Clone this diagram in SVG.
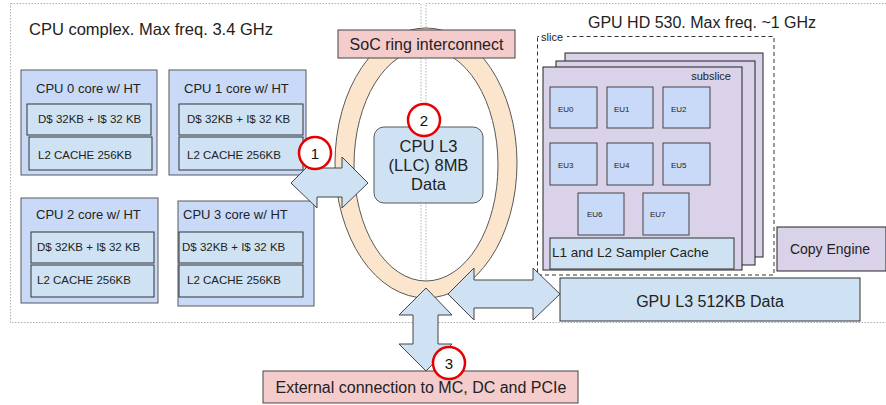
<svg xmlns="http://www.w3.org/2000/svg" width="886" height="405" viewBox="0 0 886 405">
<style>
text{font-family:"Liberation Sans",Arial,sans-serif;fill:#222;}
.reg{fill:none;stroke:#b0b0b0;stroke-width:1;stroke-dasharray:1.5 1.5;}
.cpu{fill:#c9daf8;stroke:#595959;stroke-width:1;}
.sub{fill:#cfe2f3;stroke:#333;stroke-width:1;}
.arrow{fill:#cfe2f3;stroke:#444;stroke-width:1;}
.num{fill:#fff;stroke:#e60000;stroke-width:2.5;}
.numt{font-size:15px;text-anchor:middle;fill:#111;}
.gpu{fill:#d9d2e9;stroke:#222;stroke-width:1;}
.eu{fill:#c9daf8;stroke:#444;stroke-width:1;}
.eut{font-size:8px;}
.pink{fill:#f4cccc;stroke:#444;stroke-width:1;}
.t13{font-size:13px;}
.t11{font-size:11.5px;}
</style>

<g id="regions">
  <rect class="reg" x="10.5" y="3.5" width="410.5" height="319"/>
  <rect class="reg" x="426" y="3.5" width="470" height="319"/>
</g>

<g id="ring">
  <path d="M335,163 a91,135 0 1,0 182,0 a91,135 0 1,0 -182,0 Z M354,165 a72,116 0 1,0 144,0 a72,116 0 1,0 -144,0 Z" fill="#fce5cd" fill-rule="evenodd" stroke="#595959" stroke-width="1"/>
</g>

<g id="soc">
  <rect class="pink" x="338" y="30" width="177" height="28"/>
  <text x="426.5" y="49.5" font-size="16" text-anchor="middle">SoC ring interconnect</text>
</g>

<g id="title-cpu"><text x="29" y="35" font-size="16.5">CPU complex. Max freq. 3.4 GHz</text></g>
<g id="title-gpu"><text x="588" y="28" font-size="16">GPU HD 530. Max freq. ~1 GHz</text></g>

<g id="llc">
  <rect x="374" y="127" width="109" height="76" rx="10" fill="#cfe2f3" stroke="#595959"/>
  <text x="428.5" y="152" font-size="16.5" text-anchor="middle">CPU L3</text>
  <text x="428.5" y="171" font-size="16.5" text-anchor="middle">(LLC) 8MB</text>
  <text x="428.5" y="190" font-size="16.5" text-anchor="middle">Data</text>
</g>

<g id="cpu0">
  <rect class="cpu" x="21" y="70" width="136" height="105"/>
  <text class="t13" x="36" y="93">CPU 0 core w/ HT</text>
  <rect class="sub" x="27" y="104" width="124" height="31"/>
  <text class="t11" x="38" y="123">D$ 32KB + I$ 32 KB</text>
  <rect class="sub" x="29" y="137" width="123" height="33"/>
  <text class="t11" x="38" y="159">L2 CACHE 256KB</text>
</g>
<g id="cpu1">
  <rect class="cpu" x="169" y="70" width="137" height="105"/>
  <text class="t13" x="184" y="93">CPU 1 core w/ HT</text>
  <rect class="sub" x="179" y="104" width="124" height="31"/>
  <text class="t11" x="187" y="123">D$ 32KB + I$ 32 KB</text>
  <rect class="sub" x="179" y="137" width="124" height="33"/>
  <text class="t11" x="187" y="159">L2 CACHE 256KB</text>
</g>
<g id="cpu2">
  <rect class="cpu" x="21" y="198" width="137" height="105"/>
  <text class="t13" x="36" y="219">CPU 2 core w/ HT</text>
  <rect class="sub" x="31" y="232" width="123" height="31"/>
  <text class="t11" x="37" y="251">D$ 32KB + I$ 32 KB</text>
  <rect class="sub" x="31" y="265" width="123" height="32"/>
  <text class="t11" x="37" y="284">L2 CACHE 256KB</text>
</g>
<g id="cpu3">
  <rect class="cpu" x="178" y="201" width="136" height="105"/>
  <text class="t13" x="183" y="219">CPU 3 core w/ HT</text>
  <rect class="sub" x="179" y="232" width="124" height="31"/>
  <text class="t11" x="182" y="251">D$ 32KB + I$ 32 KB</text>
  <rect class="sub" x="179" y="265" width="124" height="32"/>
  <text class="t11" x="187" y="284">L2 CACHE 256KB</text>
</g>

<g id="gpu">
  <rect x="537.5" y="36.5" width="236.5" height="238.5" fill="none" stroke="#333" stroke-dasharray="4 3"/>
  <rect x="539" y="32" width="28" height="9" fill="#fff"/>
  <text x="541" y="40.5" font-size="11">slice</text>
  <rect class="gpu" x="565" y="53" width="198" height="204"/>
  <rect class="gpu" x="556" y="61" width="199" height="204"/>
  <rect class="gpu" x="543" y="67" width="199" height="203"/>
  <text x="731" y="80" font-size="11" text-anchor="end">subslice</text>
  <rect class="eu" x="550" y="87" width="47" height="41"/><text class="eut" x="558" y="112">EU0</text>
  <rect class="eu" x="607" y="87" width="46" height="41"/><text class="eut" x="614" y="112">EU1</text>
  <rect class="eu" x="663" y="87" width="47" height="41"/><text class="eut" x="671" y="112">EU2</text>
  <rect class="eu" x="550" y="143" width="47" height="42"/><text class="eut" x="558" y="168">EU3</text>
  <rect class="eu" x="607" y="143" width="46" height="42"/><text class="eut" x="614" y="168">EU4</text>
  <rect class="eu" x="663" y="143" width="47" height="42"/><text class="eut" x="671" y="168">EU5</text>
  <rect class="eu" x="578" y="193" width="46" height="42"/><text class="eut" x="587" y="217">EU6</text>
  <rect class="eu" x="643" y="193" width="46" height="42"/><text class="eut" x="650" y="217">EU7</text>
  <rect class="sub" x="550" y="238" width="184" height="31"/>
  <text x="552" y="257" font-size="13.5">L1 and L2 Sampler Cache</text>
</g>

<g id="copy-engine">
  <rect class="gpu" x="777" y="227" width="109" height="44" stroke="#333"/>
  <text x="830" y="254" font-size="14" text-anchor="middle">Copy Engine</text>
</g>

<g id="gpu-l3">
  <rect class="sub" x="560" y="278" width="300" height="43" stroke="#595959"/>
  <text x="710" y="307" font-size="16" text-anchor="middle">GPU L3 512KB Data</text>
</g>

<g id="external">
  <rect class="pink" x="263" y="371" width="315" height="32"/>
  <text x="421" y="393" font-size="16" text-anchor="middle">External connection to MC, DC and PCIe</text>
</g>

<g id="connectors">
  <polygon class="arrow" points="291,183 317,157 317,168 342,168 342,157 368,183 342,208 342,197 317,197 317,208"/>
  <polygon class="arrow" points="448,294 474,268 474,280 533,280 533,268 560,294 533,320 533,308 474,308 474,320"/>
  <polygon class="arrow" points="426,288 452,315 438,315 438,344 452,344 426,371 399,344 413,344 413,315 399,315"/>
</g>

<g id="num1"><circle class="num" cx="315" cy="153" r="16"/><text class="numt" x="315" y="158.5">1</text></g>
<g id="num2"><circle class="num" cx="424" cy="120" r="16"/><text class="numt" x="424" y="125.5">2</text></g>
<g id="num3"><circle class="num" cx="449" cy="363" r="16"/><text class="numt" x="449" y="368.5">3</text></g>
</svg>
